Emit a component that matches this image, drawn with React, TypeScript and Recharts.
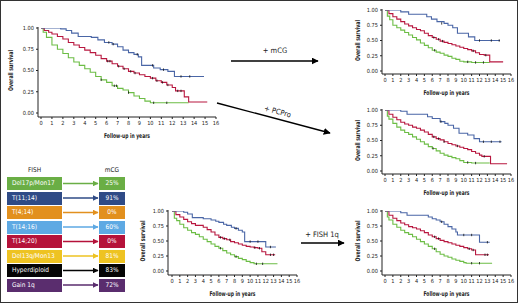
import React from "react"
import { ComposedChart, Line, Scatter, XAxis, YAxis } from "recharts"

const FONT = '"Liberation Sans Narrow", "DejaVu Sans Condensed", "Liberation Sans", Arial, sans-serif'
const BLUE = "#4a66a6"
const RED = "#b8173f"
const GREEN = "#6cbd45"
const INK = "#222"

const YEARS = [0, 1, 2, 3, 4, 5, 6, 7, 8, 9, 10, 11, 12, 13, 14, 15, 16]
const Y_TICKS = [0, 0.25, 0.5, 0.75, 1]

// [years, survival] step points
const mainBlue = [[0, 1], [1.8, 0.99], [2.3, 0.97], [2.8, 0.94], [3.4, 0.9], [4.6, 0.89], [5.2, 0.86], [5.8, 0.83], [6.5, 0.81], [7, 0.78], [7.5, 0.74], [8, 0.71], [8.5, 0.69], [8.9, 0.66], [9.2, 0.56], [10.3, 0.53], [10.9, 0.51], [11.6, 0.49], [12.2, 0.43], [14.9, 0.43]]
const mainRed = [[0, 1], [0.3, 0.97], [0.7, 0.95], [1, 0.93], [1.5, 0.9], [2, 0.87], [2.5, 0.83], [3, 0.8], [3.5, 0.77], [4, 0.74], [4.5, 0.71], [5, 0.68], [5.5, 0.64], [6, 0.61], [6.5, 0.58], [7, 0.55], [7.5, 0.52], [8, 0.49], [8.5, 0.47], [9, 0.45], [9.5, 0.43], [10, 0.41], [10.5, 0.38], [11, 0.36], [11.5, 0.33], [12, 0.3], [12.3, 0.26], [13.1, 0.19], [13.5, 0.13], [15.2, 0.13]]
const mainGreen = [[0, 1], [0.2, 0.95], [0.5, 0.89], [1, 0.8], [1.5, 0.75], [2, 0.7], [2.5, 0.65], [3, 0.6], [3.5, 0.56], [4, 0.52], [4.5, 0.48], [5, 0.43], [5.5, 0.39], [6, 0.36], [6.5, 0.32], [7, 0.29], [7.5, 0.27], [8, 0.24], [8.5, 0.2], [9, 0.17], [9.5, 0.14], [10, 0.12], [13.5, 0.12]]
const mainCensor = [[6.1, 0.61], [6.3, 0.61], [7.1, 0.55], [7.6, 0.52], [8.2, 0.49], [8.6, 0.47], [10.2, 0.41], [10.6, 0.38], [11.1, 0.36], [11.6, 0.33], [12.5, 0.26], [12.8, 0.26], [6.2, 0.83], [6.6, 0.81], [8.8, 0.69], [10.2, 0.56], [11.2, 0.51], [12.8, 0.43], [13.6, 0.43], [5.5, 0.39], [6.7, 0.32], [6.9, 0.32], [8, 0.24], [10.3, 0.12], [11.5, 0.12]]

const mcgBlue = [[0, 1], [2, 0.97], [3, 0.93], [5.3, 0.89], [5.9, 0.85], [6.6, 0.81], [7.5, 0.78], [8, 0.75], [8.6, 0.71], [9.2, 0.62], [10.6, 0.56], [11.4, 0.5], [14.6, 0.5]]
const mcgRed = [[0, 1], [0.5, 0.94], [1, 0.89], [1.5, 0.85], [2, 0.81], [2.5, 0.77], [3, 0.74], [3.5, 0.71], [4, 0.68], [4.5, 0.66], [5, 0.62], [5.5, 0.58], [6, 0.55], [6.5, 0.52], [7, 0.49], [7.5, 0.47], [8, 0.45], [8.5, 0.43], [9, 0.41], [9.5, 0.39], [10, 0.37], [10.5, 0.35], [11, 0.33], [11.5, 0.3], [12, 0.27], [12.6, 0.26], [13.3, 0.15], [15, 0.15]]
const mcgGreen = [[0, 1], [0.3, 0.9], [0.6, 0.84], [1, 0.75], [1.5, 0.71], [2, 0.67], [2.5, 0.63], [3, 0.59], [3.5, 0.55], [4, 0.51], [4.5, 0.46], [5, 0.42], [5.5, 0.38], [6, 0.34], [6.5, 0.31], [7, 0.29], [7.5, 0.26], [8, 0.24], [8.5, 0.21], [9, 0.19], [9.5, 0.16], [10, 0.15], [11, 0.14], [13.3, 0.14]]
const mcgCensor = [[6.2, 0.55], [6.8, 0.52], [7.3, 0.49], [11.2, 0.33], [12.8, 0.26], [7.2, 0.78], [12, 0.5], [13.5, 0.5], [14.5, 0.5], [6.3, 0.34], [10.5, 0.15], [11.5, 0.14], [12.5, 0.14]]

const pcproBlue = [[0, 1], [2, 0.98], [2.8, 0.93], [5.4, 0.89], [6, 0.86], [7, 0.81], [7.6, 0.78], [8, 0.75], [8.7, 0.7], [9.4, 0.62], [10.5, 0.59], [11.3, 0.53], [12, 0.48], [14.8, 0.48]]
const pcproRed = [[0, 1], [0.5, 0.93], [1, 0.88], [1.5, 0.84], [2, 0.8], [2.5, 0.77], [3, 0.75], [3.5, 0.72], [4, 0.7], [4.5, 0.67], [5, 0.64], [5.5, 0.6], [6, 0.56], [6.5, 0.53], [7, 0.51], [7.5, 0.48], [8, 0.45], [8.5, 0.43], [9, 0.41], [9.5, 0.39], [10, 0.37], [10.5, 0.35], [11, 0.32], [11.5, 0.29], [12, 0.26], [12.3, 0.24], [13.4, 0.12], [15.5, 0.12]]
const pcproGreen = [[0, 1], [0.3, 0.9], [0.5, 0.85], [1, 0.78], [1.5, 0.72], [2, 0.67], [2.5, 0.63], [3, 0.6], [3.5, 0.56], [4, 0.52], [4.5, 0.48], [5, 0.44], [5.5, 0.4], [6, 0.37], [6.5, 0.33], [7, 0.29], [7.5, 0.26], [8, 0.24], [8.5, 0.22], [9, 0.2], [9.5, 0.17], [10, 0.14], [11, 0.13], [13.3, 0.13]]
const pcproCensor = [[6.2, 0.56], [6.8, 0.53], [7.5, 0.48], [9.2, 0.41], [12.6, 0.24], [7.1, 0.81], [12.5, 0.48], [13.5, 0.48], [14.6, 0.48], [6.1, 0.37], [10.5, 0.14], [11.5, 0.13]]

const fishBlue = [[0, 1], [1.5, 0.98], [2, 0.95], [2.6, 0.89], [4, 0.87], [5, 0.85], [5.6, 0.83], [6, 0.81], [6.6, 0.78], [7, 0.76], [7.6, 0.73], [8, 0.71], [8.5, 0.68], [9, 0.65], [9.3, 0.49], [12, 0.4], [13.3, 0.4]]
const fishRed = [[0, 1], [0.5, 0.94], [1, 0.9], [1.5, 0.86], [2, 0.82], [2.5, 0.79], [3, 0.76], [4, 0.73], [4.5, 0.69], [5, 0.65], [5.5, 0.6], [6, 0.56], [6.5, 0.54], [7, 0.52], [7.5, 0.49], [8, 0.47], [8.5, 0.45], [9, 0.43], [9.5, 0.41], [10, 0.4], [10.5, 0.39], [11, 0.38], [11.5, 0.32], [12, 0.27], [13.2, 0.27]]
const fishGreen = [[0, 1], [0.3, 0.88], [0.6, 0.84], [1, 0.78], [1.5, 0.72], [2, 0.68], [2.5, 0.64], [3, 0.61], [3.5, 0.57], [4, 0.53], [4.5, 0.49], [5, 0.45], [5.5, 0.41], [6, 0.38], [6.5, 0.34], [7, 0.3], [7.5, 0.27], [8, 0.24], [8.5, 0.21], [9, 0.19], [9.5, 0.16], [10, 0.14], [10.5, 0.12], [13.5, 0.12]]
const fishCensor = [[6.2, 0.56], [6.7, 0.54], [7.4, 0.52], [10.6, 0.39], [11.2, 0.38], [12.6, 0.27], [13, 0.27], [8.2, 0.71], [10, 0.49], [11, 0.49], [12.6, 0.4], [6.2, 0.38], [8.2, 0.24], [10.8, 0.12], [11.6, 0.12]]

const fish1qBlue = [[0, 1], [2, 0.97], [2.8, 0.93], [5.5, 0.9], [6, 0.87], [6.5, 0.85], [7, 0.82], [7.5, 0.78], [8, 0.74], [8.5, 0.7], [9, 0.65], [9.2, 0.6], [12, 0.48], [13.3, 0.48]]
const fish1qRed = [[0, 1], [0.5, 0.93], [1, 0.88], [1.5, 0.84], [2, 0.8], [2.5, 0.77], [3, 0.74], [3.5, 0.72], [4, 0.7], [4.5, 0.67], [5, 0.64], [5.5, 0.6], [6, 0.57], [6.5, 0.54], [7, 0.51], [7.5, 0.49], [8, 0.47], [8.5, 0.45], [9, 0.43], [9.5, 0.41], [10, 0.39], [10.5, 0.37], [11, 0.35], [11.5, 0.27], [13.2, 0.27]]
const fish1qGreen = [[0, 1], [0.3, 0.9], [0.5, 0.85], [1, 0.78], [1.5, 0.73], [2, 0.68], [2.5, 0.64], [3, 0.61], [3.5, 0.57], [4, 0.53], [4.5, 0.49], [5, 0.45], [5.5, 0.41], [6, 0.37], [6.5, 0.32], [7, 0.28], [7.5, 0.25], [8, 0.23], [8.5, 0.2], [9, 0.18], [9.5, 0.16], [10, 0.14], [10.3, 0.13], [13.6, 0.13]]
const fish1qCensor = [[6.3, 0.57], [6.8, 0.54], [10.7, 0.37], [11.2, 0.35], [12.7, 0.27], [13, 0.27], [7.2, 0.82], [10, 0.6], [11, 0.6], [13, 0.48], [6.3, 0.37], [11, 0.13], [12, 0.13]]

// FISH → mCG concordance table
const fishLabels = ["Del17p/Mon17", "T(11;14)", "T(4;14)", "T(14;16)", "T(14;20)", "Del13q/Mon13", "Hyperdiploid", "Gain 1q"]
const mcgValues = ["25%", "91%", "0%", "60%", "0%", "81%", "83%", "72%"]
const rowColors = ["#6aae45", "#2f4b86", "#e2901e", "#5ea9e3", "#b5123a", "#eec322", "#050505", "#5a2d6e"]

const pts = (arr: number[][]) => arr.map(([t, s]) => ({ t, s }))

const CensorTick = (props: any) => {
  const { cx, cy } = props
  if (cx == null || cy == null) return null
  return <line x1={cx} x2={cx} y1={cy - 1.2} y2={cy + 1.2} stroke="#111" strokeWidth={0.8} />
}

interface Geo { axisX: number; x0: number; x16: number; yTop: number; yZero: number; axisY: number }

function KMPlot({ geo, blue, red, green, censor }: { geo: Geo; blue: number[][]; red: number[][]; green: number[][]; censor: number[][] }) {
  const { axisX, x0, x16, yTop, yZero, axisY } = geo
  const YW = 24, MT = 4, MR = 6, MB = 12
  const plotTop = yTop - 1
  const plotH = axisY - plotTop
  const plotW = x16 - axisX
  const tick = { fontSize: 5.6, fill: INK, fontFamily: FONT }
  return (
    <div style={{ position: "absolute", left: axisX - YW, top: plotTop - MT }}>
      <ComposedChart width={YW + plotW + MR} height={MT + plotH + MB} margin={{ top: MT, right: MR, bottom: 0, left: 0 }}>
        <XAxis type="number" dataKey="t" domain={[0, 16]} ticks={YEARS} interval={0} allowDataOverflow
          padding={{ left: x0 - axisX, right: 0 }} height={MB} tickSize={2} tickMargin={2}
          tick={tick} stroke={INK} tickLine={{ stroke: INK }} />
        <YAxis type="number" dataKey="s" domain={[0, 1]} ticks={Y_TICKS} interval={0} allowDataOverflow
          padding={{ top: 1, bottom: axisY - yZero }} width={YW} tickSize={2} tickMargin={2}
          tickFormatter={(v: number) => v.toFixed(2)} tick={tick} stroke={INK} tickLine={{ stroke: INK }} />
        <Line data={pts(green)} dataKey="s" type="stepAfter" stroke={GREEN} strokeWidth={1.1} dot={false} isAnimationActive={false} />
        <Line data={pts(red)} dataKey="s" type="stepAfter" stroke={RED} strokeWidth={1.1} dot={false} isAnimationActive={false} />
        <Line data={pts(blue)} dataKey="s" type="stepAfter" stroke={BLUE} strokeWidth={1.1} dot={false} isAnimationActive={false} />
        <Scatter data={pts(censor)} dataKey="s" shape={CensorTick} isAnimationActive={false} />
      </ComposedChart>
    </div>
  )
}

const panels = [
  { geo: { axisX: 38, x0: 41, x16: 216, yTop: 28, yZero: 113, axisY: 117 }, blue: mainBlue, red: mainRed, green: mainGreen, censor: mainCensor, yLab: 11 },
  { geo: { axisX: 382, x0: 385, x16: 511, yTop: 10, yZero: 71, axisY: 74 }, blue: mcgBlue, red: mcgRed, green: mcgGreen, censor: mcgCensor, yLab: 358 },
  { geo: { axisX: 382, x0: 385, x16: 511, yTop: 110, yZero: 171, axisY: 174 }, blue: pcproBlue, red: pcproRed, green: pcproGreen, censor: pcproCensor, yLab: 358 },
  { geo: { axisX: 168, x0: 172, x16: 297, yTop: 211, yZero: 271, axisY: 275 }, blue: fishBlue, red: fishRed, green: fishGreen, censor: fishCensor, yLab: 143 },
  { geo: { axisX: 382, x0: 385, x16: 511, yTop: 211, yZero: 271, axisY: 275 }, blue: fish1qBlue, red: fish1qRed, green: fish1qGreen, censor: fish1qCensor, yLab: 358 },
]

export default function App() {
  const rowTop = 177, rowStep = 14.5, rowH = 13
  return (
    <div style={{ position: "absolute", left: 0, top: 0, width: 520, height: 306, background: "#fff", fontFamily: FONT, overflow: "hidden" }}>
      <div style={{ position: "absolute", left: 0, top: 0, width: 516, height: 301, border: "1px solid #333" }} />

      {panels.map((p, i) => (
        <KMPlot key={i} geo={p.geo} blue={p.blue} red={p.red} green={p.green} censor={p.censor} />
      ))}

      {/* FISH / mCG table */}
      <div style={{ position: "absolute", left: 7, top: 166, width: 55, textAlign: "center", fontSize: 6.5, color: INK }}>FISH</div>
      <div style={{ position: "absolute", left: 99, top: 166, width: 26, textAlign: "center", fontSize: 6.5, color: INK }}>mCG</div>
      {fishLabels.map((lab, i) => (
        <React.Fragment key={lab}>
          <div style={{ position: "absolute", left: 7, top: rowTop + i * rowStep, width: 55, height: rowH, background: rowColors[i], color: "#fff", fontSize: 6.5, lineHeight: `${rowH}px`, paddingLeft: 5, boxSizing: "border-box" }}>{lab}</div>
          <div style={{ position: "absolute", left: 99, top: rowTop + i * rowStep, width: 26, height: rowH, background: rowColors[i], color: "#fff", fontSize: 6.5, lineHeight: `${rowH}px`, textAlign: "center" }}>{mcgValues[i]}</div>
        </React.Fragment>
      ))}

      {/* arrows, axis titles */}
      <svg width={520} height={306} style={{ position: "absolute", left: 0, top: 0, pointerEvents: "none" }}>
        <defs>
          <marker id="ah" viewBox="0 0 10 10" refX="9" refY="5" markerWidth="5" markerHeight="5" orient="auto">
            <path d="M0,0 L10,5 L0,10 z" fill="#000" />
          </marker>
          {rowColors.map((c, i) => (
            <marker key={i} id={`rh${i}`} viewBox="0 0 10 10" refX="9" refY="5" markerWidth="4" markerHeight="4" orient="auto">
              <path d="M0,0 L10,5 L0,10 z" fill={c} />
            </marker>
          ))}
        </defs>
        {rowColors.map((c, i) => {
          const y = rowTop + i * rowStep + rowH / 2
          return <line key={i} x1={63} y1={y} x2={98} y2={y} stroke={c} strokeWidth={1.4} markerEnd={`url(#rh${i})`} />
        })}

        <line x1={231} y1={61} x2={318} y2={61} stroke="#000" strokeWidth={1.4} markerEnd="url(#ah)" />
        <text x={275} y={53} fontSize={7.5} textAnchor="middle" fill={INK} fontFamily={FONT}>+ mCG</text>
        <line x1={217} y1={103} x2={330} y2={133} stroke="#000" strokeWidth={1.4} markerEnd="url(#ah)" />
        <text x={277} y={114} fontSize={7.5} textAnchor="middle" fill={INK} fontFamily={FONT} transform="rotate(15 277 114)">+ PCPro</text>
        <line x1={301} y1={243} x2={344} y2={243} stroke="#000" strokeWidth={1.4} markerEnd="url(#ah)" />
        <text x={322} y={237} fontSize={7.5} textAnchor="middle" fill={INK} fontFamily={FONT}>+ FISH 1q</text>

        {panels.map((p, i) => {
          const g = p.geo
          const cx = (g.axisX + g.x16) / 2
          const cy = (g.yTop + g.yZero) / 2
          return (
            <g key={i} fontFamily={FONT} fill={INK} fontWeight={600}>
              <text x={cx} y={g.axisY + 21} fontSize={6.5} textAnchor="middle" textLength={46} lengthAdjust="spacingAndGlyphs">Follow-up in years</text>
              <text x={p.yLab} y={cy} fontSize={6.5} textAnchor="middle" dominantBaseline="central" textLength={41} lengthAdjust="spacingAndGlyphs" transform={`rotate(-90 ${p.yLab} ${cy})`}>Overall survival</text>
            </g>
          )
        })}
      </svg>
    </div>
  )
}
